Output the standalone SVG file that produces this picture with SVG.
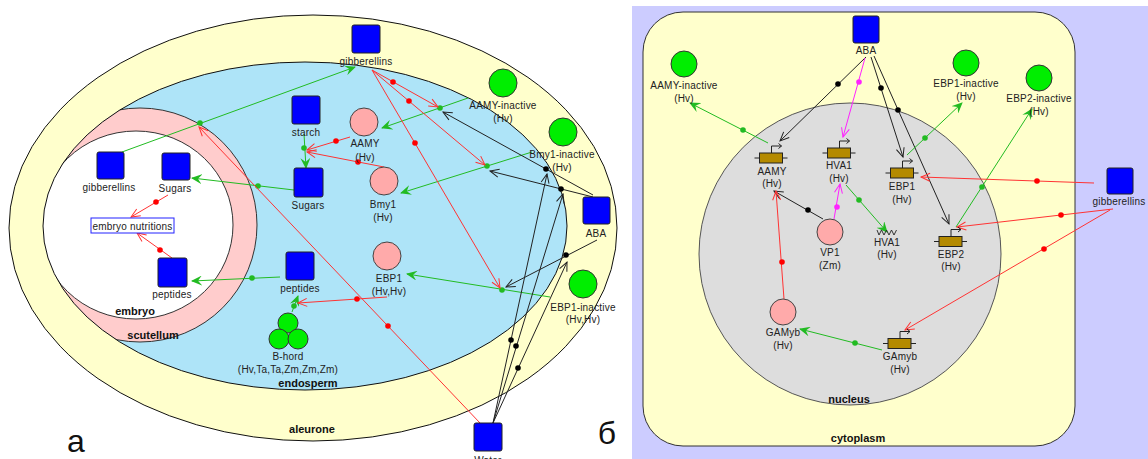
<svg xmlns="http://www.w3.org/2000/svg" width="1148" height="459" viewBox="0 0 1148 459">
<defs>
<style>
.lbl{font-family:"Liberation Sans",Arial,sans-serif;font-size:10px;fill:#222;text-anchor:middle;letter-spacing:0.2px}
.bold{font-family:"Liberation Sans",Arial,sans-serif;font-size:11px;font-weight:bold;fill:#111;text-anchor:middle}
.big{font-family:"Liberation Sans",Arial,sans-serif;font-size:32px;fill:#111;text-anchor:middle}
.sq{fill:#0000FF;stroke:#222;stroke-width:1}
.pink{fill:#FFAAAA;stroke:#444;stroke-width:1}
.green{fill:#00EE00;stroke:#333;stroke-width:1}
.cg{stroke:#22BB22;stroke-width:1;fill:none;marker-end:url(#aG)}
.cr{stroke:#FF3333;stroke-width:1;fill:none;marker-end:url(#aR)}
.ck{stroke:#222;stroke-width:1;fill:none;marker-end:url(#aK)}
.cm{stroke:#FF22FF;stroke-width:1;fill:none;marker-end:url(#aM)}
.dg{fill:#22BB22}
.dr{fill:#FF0000}
.dk{fill:#000}
.dm{fill:#FF22FF}
</style>
<marker id="aG" markerUnits="userSpaceOnUse" markerWidth="12" markerHeight="10" refX="10" refY="5" orient="auto"><path d="M0,0 L11,5 L0,10 L4,5 z" fill="#22BB22"/></marker>
<marker id="aR" markerUnits="userSpaceOnUse" markerWidth="12" markerHeight="10" refX="10" refY="5" orient="auto"><path d="M1,1 L10,5 L1,9" fill="none" stroke="#FF3333" stroke-width="1"/></marker>
<marker id="aK" markerUnits="userSpaceOnUse" markerWidth="12" markerHeight="10" refX="10" refY="5" orient="auto"><path d="M1,1 L10,5 L1,9" fill="none" stroke="#222" stroke-width="1"/></marker>
<marker id="aM" markerUnits="userSpaceOnUse" markerWidth="12" markerHeight="10" refX="10" refY="5" orient="auto"><path d="M1,1 L10,5 L1,9" fill="none" stroke="#FF22FF" stroke-width="1"/></marker>
<clipPath id="hole"><ellipse cx="305" cy="226" rx="262" ry="164"/></clipPath>
<g id="gene">
<line x1="-17" y1="0" x2="16" y2="0" stroke="#222" stroke-width="1"/>
<rect x="-12" y="-5" width="23" height="10" fill="#B48A00" stroke="#222" stroke-width="1"/>
<path d="M0,-5 V-12 H10 M7,-14.5 L10,-12 L7,-9.5" fill="none" stroke="#222" stroke-width="1"/>
</g>
</defs>

<!-- LEFT PANEL: compartments -->
<g id="compartments-left">
<ellipse cx="313" cy="228" rx="304" ry="213" fill="#FFFFCC" stroke="#111" stroke-width="1"/>
<ellipse cx="305" cy="226" rx="262" ry="164" fill="#AEE4F8"/>
<g clip-path="url(#hole)">
<circle cx="140" cy="225" r="117" fill="#FFCCCC" stroke="#333" stroke-width="1"/>
<ellipse cx="136" cy="225" rx="97" ry="94" fill="#FFFFFF" stroke="#333" stroke-width="1"/>
</g>
<ellipse cx="305" cy="226" rx="262" ry="164" fill="none" stroke="#111" stroke-width="1"/>
<text class="bold" x="135" y="315">embryo</text>
<text class="bold" x="153" y="339">scutellum</text>
<text class="bold" x="308" y="387">endosperm</text>
<text class="bold" x="312" y="433">aleurone</text>
<text class="big" x="76" y="452">а</text>
</g>

<!-- RIGHT PANEL: compartments -->
<g id="compartments-right">
<rect x="632" y="6" width="516" height="453" fill="#CCCCFF"/>
<rect x="643" y="12" width="432" height="434" rx="40" ry="40" fill="#FFFFCC" stroke="#333" stroke-width="1"/>
<circle cx="850" cy="254" r="151" fill="#DDDDDD" stroke="#555" stroke-width="1"/>
<text class="bold" x="849" y="403">nucleus</text>
<text class="bold" x="858" y="442">cytoplasm</text>
<text class="big" x="607" y="444">б</text>
</g>

<!-- CONNECTORS -->
<g id="connectors">
<!-- left green -->
<line class="cg" x1="122" y1="152" x2="355" y2="67"/><circle class="dg" cx="200" cy="123" r="2.8"/>
<line class="cg" x1="294" y1="190" x2="192" y2="178"/><circle class="dg" cx="258" cy="186" r="2.8"/>
<line class="cg" x1="280" y1="277" x2="192" y2="281"/><circle class="dg" cx="252" cy="278" r="2.8"/>
<line class="cg" x1="304" y1="134" x2="306" y2="168"/><circle class="dg" cx="304" cy="148" r="2.8"/>
<line class="cg" x1="468" y1="98" x2="382" y2="128"/><circle class="dg" cx="440" cy="108" r="2.8"/>
<line class="cg" x1="532" y1="152" x2="401" y2="193"/><circle class="dg" cx="487" cy="166" r="2.8"/>
<line class="cg" x1="550" y1="297" x2="407" y2="274"/><circle class="dg" cx="502" cy="290" r="2.8"/>
<line class="cg" x1="292" y1="312" x2="298" y2="296"/><circle class="dg" cx="294" cy="306" r="2.8"/>
<!-- left red -->
<line class="cr" x1="168" y1="195" x2="131" y2="217"/><circle class="dr" cx="156" cy="202" r="2.8"/>
<line class="cr" x1="172" y1="258" x2="137" y2="233"/><circle class="dr" cx="160" cy="250" r="2.8"/>
<line class="cr" x1="350" y1="137" x2="307" y2="150"/><circle class="dr" cx="336" cy="141" r="2.8"/>
<line class="cr" x1="384" y1="167" x2="307" y2="152"/><circle class="dr" cx="358" cy="162" r="2.8"/>
<line class="cr" x1="387" y1="297" x2="298" y2="303"/><circle class="dr" cx="357" cy="299" r="2.8"/>
<line class="cr" x1="372" y1="70" x2="438" y2="107"/><circle class="dr" cx="393" cy="82" r="2.8"/>
<line class="cr" x1="372" y1="70" x2="485" y2="165"/><circle class="dr" cx="409" cy="101" r="2.8"/>
<line class="cr" x1="372" y1="70" x2="500" y2="288"/><circle class="dr" cx="415" cy="143" r="2.8"/>
<line class="cr" x1="480" y1="423" x2="199" y2="127"/><circle class="dr" cx="388" cy="326" r="2.8"/>
<!-- left black -->
<line class="ck" x1="593" y1="195" x2="443" y2="112"/><circle class="dk" cx="546" cy="169" r="2.8"/>
<line class="ck" x1="593" y1="197" x2="490" y2="171"/><circle class="dk" cx="561" cy="189" r="2.8"/>
<line class="ck" x1="597" y1="240" x2="506" y2="287"/><circle class="dk" cx="566" cy="255" r="2.8"/>
<line class="ck" x1="493" y1="423" x2="547" y2="174"/><circle class="dk" cx="511" cy="340" r="2.8"/>
<line class="ck" x1="493" y1="423" x2="563" y2="194"/><circle class="dk" cx="516" cy="346" r="2.8"/>
<line class="ck" x1="493" y1="423" x2="567" y2="262"/><circle class="dk" cx="518" cy="368" r="2.8"/>
<!-- right black -->
<line class="ck" x1="866" y1="57" x2="780" y2="141"/><circle class="dk" cx="838" cy="84" r="2.8"/>
<line class="ck" x1="871" y1="57" x2="903" y2="157"/><circle class="dk" cx="881" cy="88" r="2.8"/>
<line class="ck" x1="874" y1="56" x2="949" y2="224"/><circle class="dk" cx="898" cy="110" r="2.8"/>
<line class="ck" x1="823" y1="219" x2="774" y2="191"/><circle class="dk" cx="808" cy="210" r="2.8"/>
<!-- right magenta -->
<line class="cm" x1="865" y1="58" x2="843" y2="137"/><circle class="dm" cx="859" cy="82" r="2.8"/>
<line class="cm" x1="834" y1="219" x2="840" y2="184"/><circle class="dm" cx="837" cy="207" r="2.8"/>
<!-- right green -->
<line class="cg" x1="768" y1="143" x2="690" y2="103"/><circle class="dg" cx="743" cy="130" r="2.8"/>
<line class="cg" x1="846" y1="185" x2="887" y2="232"/><circle class="dg" cx="859" cy="200" r="2.8"/>
<line class="cg" x1="907" y1="155" x2="962" y2="103"/><circle class="dg" cx="925" cy="138" r="2.8"/>
<line class="cg" x1="956" y1="227" x2="1032" y2="109"/><circle class="dg" cx="982" cy="187" r="2.8"/>
<line class="cg" x1="882" y1="350" x2="800" y2="329"/><circle class="dg" cx="855" cy="343" r="2.8"/>
<!-- right red -->
<line class="cr" x1="1094" y1="183" x2="921" y2="177"/><circle class="dr" cx="1037" cy="181" r="2.8"/>
<line class="cr" x1="1113" y1="209" x2="957" y2="227"/><circle class="dr" cx="1061" cy="215" r="2.8"/>
<line class="cr" x1="1110" y1="210" x2="905" y2="330"/><circle class="dr" cx="1044" cy="249" r="2.8"/>
<line class="cr" x1="784" y1="299" x2="776" y2="191"/><circle class="dr" cx="782" cy="262" r="2.8"/>
</g>

<!-- LEFT NODES -->
<g id="L-gibberellins-top"><rect class="sq" x="352" y="25" width="28" height="28" rx="2"/><text class="lbl" x="366" y="65">gibberellins</text></g>
<g id="L-AAMY-inactive"><circle class="green" cx="503" cy="83" r="14"/><text class="lbl" x="503" y="109">AAMY-inactive</text><text class="lbl" x="503" y="122">(Hv)</text></g>
<g id="L-Bmy1-inactive"><circle class="green" cx="563" cy="132" r="14"/><text class="lbl" x="562" y="158">Bmy1-inactive</text><text class="lbl" x="562" y="171">(Hv)</text></g>
<g id="L-ABA"><rect class="sq" x="583" y="197" width="27" height="27" rx="2"/><text class="lbl" x="596" y="237">ABA</text></g>
<g id="L-EBP1-inactive"><circle class="green" cx="583" cy="284" r="14"/><text class="lbl" x="583" y="311">EBP1-inactive</text><text class="lbl" x="583" y="323">(Hv,Hv)</text></g>
<g id="L-Water"><rect class="sq" x="474" y="423" width="28" height="28" rx="2"/><text class="lbl" x="488" y="464">Water</text></g>
<g id="L-starch"><rect class="sq" x="292" y="96" width="28" height="28" rx="2"/><text class="lbl" x="306" y="136">starch</text></g>
<g id="L-Sugars"><rect class="sq" x="294" y="168" width="29" height="29" rx="2"/><text class="lbl" x="308" y="209">Sugars</text></g>
<g id="L-AAMY"><circle class="pink" cx="364" cy="122" r="14"/><text class="lbl" x="365" y="147">AAMY</text><text class="lbl" x="365" y="161">(Hv)</text></g>
<g id="L-Bmy1"><circle class="pink" cx="384" cy="181" r="14"/><text class="lbl" x="383" y="208">Bmy1</text><text class="lbl" x="383" y="221">(Hv)</text></g>
<g id="L-peptides"><rect class="sq" x="286" y="252" width="28" height="28" rx="2"/><text class="lbl" x="300" y="292">peptides</text></g>
<g id="L-EBP1"><circle class="pink" cx="387" cy="256" r="14"/><text class="lbl" x="389" y="282">EBP1</text><text class="lbl" x="389" y="295">(Hv,Hv)</text></g>
<g id="L-B-hord"><circle class="green" cx="288" cy="323" r="10"/><circle class="green" cx="279" cy="339" r="10"/><circle class="green" cx="298" cy="339" r="10"/><text class="lbl" x="288" y="360">B-hord</text><text class="lbl" x="288" y="373">(Hv,Ta,Ta,Zm,Zm,Zm)</text></g>
<g id="L-embryo-gibberellins"><rect class="sq" x="97" y="152" width="27" height="27" rx="2"/><text class="lbl" x="109" y="191">gibberellins</text></g>
<g id="L-embryo-Sugars"><rect class="sq" x="162" y="153" width="28" height="27" rx="2"/><text class="lbl" x="175" y="192">Sugars</text></g>
<g id="L-embryo-nutritions"><rect x="91" y="218" width="83" height="15" fill="#FFFFFF" stroke="#2222FF" stroke-width="1"/><text class="lbl" x="132.5" y="229.5">embryo nutritions</text></g>
<g id="L-embryo-peptides"><rect class="sq" x="158" y="258" width="29" height="29" rx="2"/><text class="lbl" x="172" y="298">peptides</text></g>

<!-- RIGHT NODES -->
<g id="R-ABA"><rect class="sq" x="853" y="16" width="26" height="27" rx="2"/><text class="lbl" x="866" y="54">ABA</text></g>
<g id="R-AAMY-inactive"><circle class="green" cx="684" cy="64" r="13"/><text class="lbl" x="684" y="89">AAMY-inactive</text><text class="lbl" x="684" y="102">(Hv)</text></g>
<g id="R-EBP1-inactive"><circle class="green" cx="966" cy="63" r="13"/><text class="lbl" x="966" y="87">EBP1-inactive</text><text class="lbl" x="966" y="100">(Hv)</text></g>
<g id="R-EBP2-inactive"><circle class="green" cx="1039" cy="78" r="13"/><text class="lbl" x="1039" y="102">EBP2-inactive</text><text class="lbl" x="1039" y="115">(Hv)</text></g>
<g id="R-gibberellins"><rect class="sq" x="1107" y="168" width="26" height="26" rx="2"/><text class="lbl" x="1119" y="205">gibberellins</text></g>
<g id="R-AAMY-gene"><use href="#gene" x="771.5" y="158"/><text class="lbl" x="772" y="175">AAMY</text><text class="lbl" x="772" y="187">(Hv)</text></g>
<g id="R-HVA1-gene"><use href="#gene" x="839.5" y="153"/><text class="lbl" x="839" y="169">HVA1</text><text class="lbl" x="839" y="182">(Hv)</text></g>
<g id="R-EBP1-gene"><use href="#gene" x="902.5" y="173"/><text class="lbl" x="902" y="190">EBP1</text><text class="lbl" x="902" y="203">(Hv)</text></g>
<g id="R-EBP2-gene"><use href="#gene" x="951" y="241.5"/><text class="lbl" x="951" y="258">EBP2</text><text class="lbl" x="951" y="270">(Hv)</text></g>
<g id="R-GAmyb-gene"><use href="#gene" x="900" y="343.5"/><text class="lbl" x="900" y="360">GAmyb</text><text class="lbl" x="900" y="373">(Hv)</text></g>
<g id="R-VP1"><circle class="pink" cx="830" cy="232" r="13"/><text class="lbl" x="830" y="256">VP1</text><text class="lbl" x="830" y="269">(Zm)</text></g>
<g id="R-HVA1-mRNA"><polyline points="877,230 879,235 881.5,230 884,235 886.5,230 889,235 891.5,230 894,235 896.5,230" fill="none" stroke="#222" stroke-width="0.9"/><text class="lbl" x="887" y="246">HVA1</text><text class="lbl" x="887" y="258">(Hv)</text></g>
<g id="R-GAMyb"><circle class="pink" cx="783" cy="312" r="13"/><text class="lbl" x="783" y="336">GAMyb</text><text class="lbl" x="783" y="349">(Hv)</text></g>
</svg>
